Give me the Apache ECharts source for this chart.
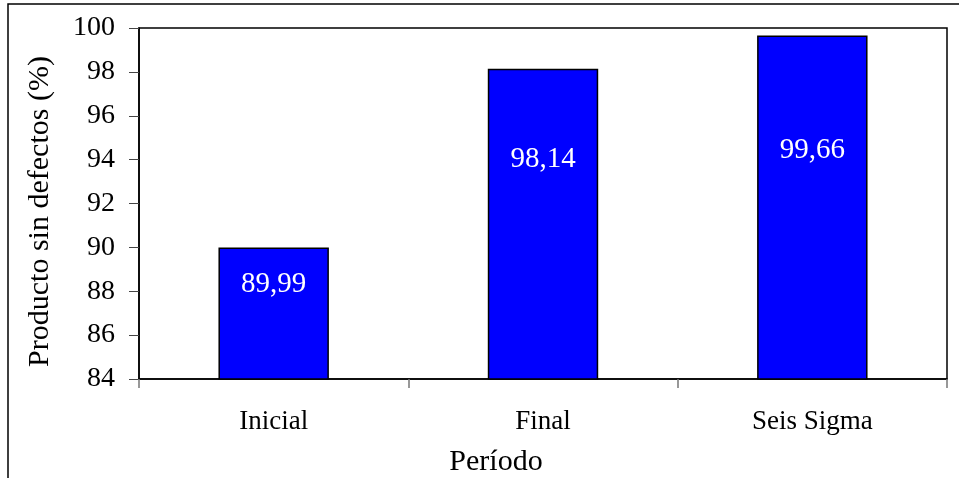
<!DOCTYPE html>
<html>
<head>
<meta charset="utf-8">
<script src="https://cdn.jsdelivr.net/npm/echarts@6/dist/echarts.min.js"></script>
<style>
  html, body { margin: 0; padding: 0; background: #fff; }
  #chart { width: 959px; height: 478px; }
</style>
</head>
<body>
<div id="chart"></div>
<script>
// Share of product without defects per period
const periods = ['Inicial', 'Final', 'Seis Sigma'];
const sinDefectos = [89.99, 98.14, 99.66];
const yTicks = { min: 84, max: 100, step: 2 };

// distance of each value label below its bar top (px)
const labelDistance = [22, 76, 100];

const serif = '"Liberation Serif", "Times New Roman", serif';
const fmt = v => v.toFixed(2).replace('.', ',');

const chart = echarts.init(document.getElementById('chart'), null, { renderer: 'canvas' });

chart.setOption({
  animation: false,
  backgroundColor: '#ffffff',
  grid: {
    left: 139, top: 28, right: 12, bottom: 99,
    outerBoundsMode: 'none',
    containLabel: false,
    show: true, borderColor: '#000', borderWidth: 1.5, backgroundColor: 'transparent'
  },
  graphic: [{
    type: 'rect',
    shape: { x: 8, y: 4, width: 1200, height: 1000 },
    style: { fill: 'none', stroke: '#000', lineWidth: 1.5 },
    silent: true,
    z: 0
  }],
  xAxis: {
    type: 'category',
    data: periods,
    name: 'Período',
    nameLocation: 'middle',
    nameGap: 68,
    nameTextStyle: { fontFamily: serif, fontSize: 30, color: '#000', padding: [0, 94, 0, 0] },
    axisLine: { show: true, lineStyle: { color: '#000', width: 1.5 } },
    axisTick: { show: true, alignWithLabel: false, length: 9, lineStyle: { color: '#777', width: 1.5 } },
    axisLabel: { fontFamily: serif, fontSize: 27, color: '#000', margin: 29 }
  },
  yAxis: {
    type: 'value',
    min: yTicks.min,
    max: yTicks.max,
    interval: yTicks.step,
    name: 'Producto sin defectos (%)',
    nameLocation: 'middle',
    nameGap: 84,
    nameRotate: 90,
    nameTextStyle: { fontFamily: serif, fontSize: 30, color: '#000', padding: [0, 16, 0, 0] },
    axisLine: { show: true, lineStyle: { color: '#000', width: 1.5 } },
    axisTick: { show: true, length: 10, lineStyle: { color: '#444', width: 1 } },
    splitLine: { show: false },
    axisLabel: { fontFamily: serif, fontSize: 28, color: '#000', margin: 24 }
  },
  series: [{
    type: 'bar',
    barWidth: '41%',
    data: sinDefectos.map((v, i) => ({
      value: v,
      label: { distance: labelDistance[i] }
    })),
    itemStyle: { color: '#0000ff', borderColor: '#000', borderWidth: 1.5 },
    label: {
      show: true,
      position: 'insideTop',
      color: '#fff',
      fontFamily: serif,
      fontSize: 29,
      formatter: p => fmt(p.value)
    }
  }]
});
</script>
</body>
</html>
